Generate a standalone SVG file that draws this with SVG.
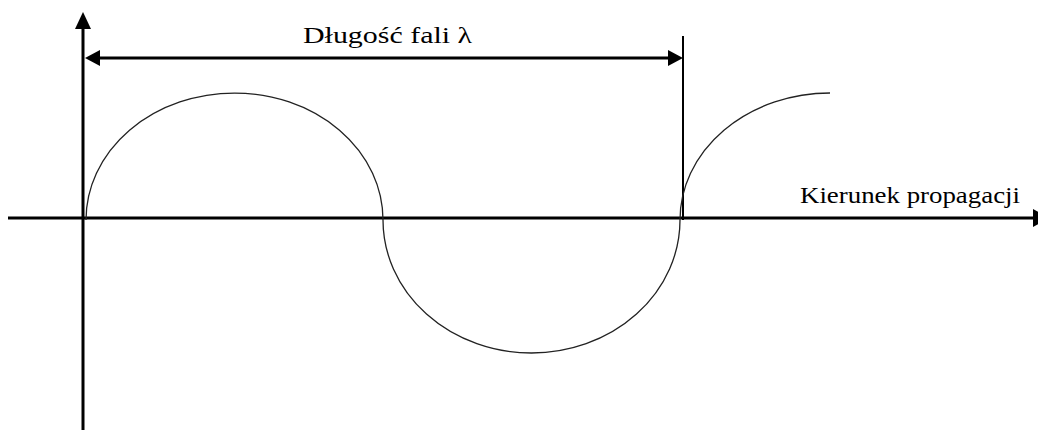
<svg xmlns="http://www.w3.org/2000/svg" width="1038" height="430" viewBox="0 0 1038 430">
<style>
.axis{stroke:#000;stroke-width:3;fill:none}
.dim{stroke:#000;stroke-width:3;fill:none}
.tick{stroke:#000;stroke-width:2;fill:none}
.wave{stroke:#222;stroke-width:1.3;fill:none}
.lbl{font-family:"Liberation Serif","Times New Roman",serif;font-size:24px;fill:#000}
.head{fill:#000}
</style>
<rect width="1038" height="430" fill="#fff"/>
<g id="connectors">
<line class="axis" x1="83" y1="26" x2="83" y2="430"/>
<polygon class="head" points="83,12 75,29 91,29"/>
<line class="axis" x1="8" y1="218" x2="1034" y2="218"/>
<polygon class="head" points="1050,218 1033,209 1033,227"/>
<line class="dim" x1="98" y1="58" x2="670" y2="58"/>
<polygon class="head" points="85,58 100,50 100,66"/>
<polygon class="head" points="683,58 668,50 668,66"/>
<line class="tick" x1="683" y1="36" x2="683" y2="220"/>
</g>
<g id="wave">
<path class="wave" d="M86,220 A148.5,127 0 0 1 383,220 A148.5,133 0 0 0 680,220 A150,127 0 0 1 830,93"/>
</g>
<g id="label-wavelength">
<text class="lbl" x="303" y="43" textLength="169" lengthAdjust="spacingAndGlyphs">Długość fali λ</text>
</g>
<g id="label-direction">
<text class="lbl" x="800" y="203" textLength="220" lengthAdjust="spacingAndGlyphs">Kierunek propagacji</text>
</g>
</svg>
